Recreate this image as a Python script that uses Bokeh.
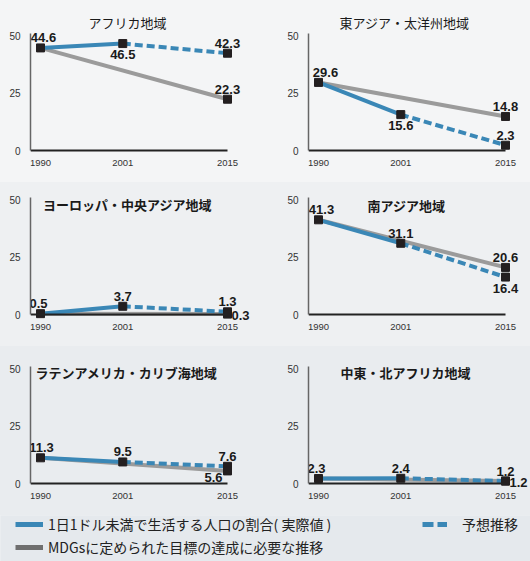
from bokeh.plotting import figure
from bokeh.models import Range1d, FixedTicker, Label, Legend, LegendItem
from bokeh.layouts import column, row
from bokeh.embed import file_html
from bokeh.resources import INLINE
from bokeh.core.properties import value

# ---------------- data ----------------
years = [1990, 2001, 2015]
regions = ["アフリカ地域", "東アジア・太洋州地域", "ヨーロッパ・中央アジア地域",
           "南アジア地域", "ラテンアメリカ・カリブ海地域", "中東・北アフリカ地域"]
actual_1990 = [44.6, 29.6, 0.5, 41.3, 11.3, 2.3]
actual_2001 = [46.5, 15.6, 3.7, 31.1, 9.5, 2.4]
projected_2015 = [42.3, 2.3, 1.3, 16.4, 7.6, 1.2]
target_2015 = [22.3, 14.8, 0.3, 20.6, 5.6, 1.2]
y_ticks = [0, 25, 50]
legend_labels = ["1日1ドル未満で生活する人口の割合( 実際値 )", "予想推移",
                 "MDGsに定められた目標の達成に必要な推移"]

# ---------------- style / layout ----------------
BLUE = "#3a87b6"
GRAY = "#9b9b9b"
GRAY_LEG = "#6f6f6f"
MARK = "#231f20"
TXT = "#1a1a1a"
BG = ["#f4f5f6", "#eef0f2", "#e9ecef", "#e5e9ed"]
PXY = 2.3            # px per percentage point
BORDER_BOTTOM = 16
COLS = [dict(w=265, left=30, pad=10, pxx=7.48, x0=0),
        dict(w=265, left=43, pad=10, pxx=7.48, x0=265)]
ROWS = [dict(top=0, h=182, zero=150.0),
        dict(top=182, h=164, zero=314.3),
        dict(top=346, h=169, zero=483.3)]
LEGEND_H = 46
# label placement per panel for (1990, 2001, projected 2015, target 2015)
placements = [["above", "below", "above", "above"],
              ["above", "below", "above", "above"],
              ["above", "above", "above", "right"],
              ["above", "above", "below", "above"],
              ["above", "above", "above", "below_l"],
              ["above", "above", "above", "right"]]
dx_1990 = [3, 7, -2, 3, 1, -2]
title_pos = [(127, 21.5), (404, 21.5), (127, 203.5), (406, 205), (126, 371.5), (405, 371.5)]
title_bold = ["normal", "normal", "bold", "bold", "bold", "bold"]
PLACE = {
    "above": dict(text_align="center", text_baseline="middle", x_offset=0, y_offset=-10),
    "below": dict(text_align="center", text_baseline="middle", x_offset=0, y_offset=11),
    "right": dict(text_align="left", text_baseline="middle", x_offset=4, y_offset=1),
    "below_l": dict(text_align="right", text_baseline="middle", x_offset=-5, y_offset=7),
}


def make_panel(i):
    c = COLS[i % 2]
    r = ROWS[i // 2]
    frame_h = r["h"] - BORDER_BOTTOM
    y_end = (r["zero"] - r["top"]) / PXY
    y_start = -(r["top"] + frame_h - r["zero"]) / PXY
    x_start = years[0] - c["pad"] / c["pxx"]
    x_end = x_start + (c["w"] - c["left"]) / c["pxx"]
    bg = BG[i // 2]
    p = figure(width=c["w"], height=r["h"],
               x_range=Range1d(x_start, x_end), y_range=Range1d(y_start, y_end),
               output_backend="svg", toolbar_location=None,
               min_border_left=c["left"], min_border_right=0,
               min_border_top=0, min_border_bottom=BORDER_BOTTOM)
    p.background_fill_color = bg
    p.border_fill_color = bg
    p.outline_line_color = None
    p.grid.visible = False

    xa = p.xaxis[0]
    xa.ticker = FixedTicker(ticks=years)
    xa.bounds = (x_start, years[-1])
    xa.fixed_location = 0
    xa.axis_line_color = "#222222"
    xa.axis_line_width = 2
    xa.major_tick_line_color = None
    xa.minor_tick_line_color = None
    xa.major_label_standoff = 3
    xa.major_label_text_font = "Liberation Sans"
    xa.major_label_text_font_size = "9.5px"
    xa.major_label_text_color = "#333333"

    ya = p.yaxis[0]
    ya.ticker = FixedTicker(ticks=y_ticks)
    ya.bounds = (0, 51)
    ya.axis_line_color = "#666666"
    ya.axis_line_width = 1.5
    ya.major_tick_line_color = None
    ya.minor_tick_line_color = None
    ya.major_label_standoff = 4
    ya.major_label_text_font = "Liberation Sans"
    ya.major_label_text_font_size = "10px"
    ya.major_label_text_color = "#333333"

    a90, a01, pr, tg = actual_1990[i], actual_2001[i], projected_2015[i], target_2015[i]
    # MDG target path
    p.line(x=[years[0], years[2]], y=[a90, tg], line_color=GRAY, line_width=4)
    # actual
    p.line(x=[years[0], years[1]], y=[a90, a01], line_color=BLUE, line_width=4)
    # projection
    p.line(x=[years[1], years[2]], y=[a01, pr], line_color=BLUE, line_width=4,
           line_dash="8 4")
    # markers
    p.scatter(x=[years[0], years[1], years[2], years[2]], y=[a90, a01, pr, tg],
              marker="square", size=8, fill_color=MARK, line_color=MARK)

    # value labels
    pts = [(years[0], a90), (years[1], a01), (years[2], pr), (years[2], tg)]
    for k, ((xx, yy), pl) in enumerate(zip(pts, placements[i])):
        st = dict(PLACE[pl])
        if k == 0:
            st["x_offset"] = st["x_offset"] + dx_1990[i]
        p.text(x=[xx], y=[yy], text=[f"{yy:.1f}"],
               text_font=value("Liberation Sans"), text_font_style="bold",
               text_font_size="13px", text_color=TXT, **st)

    # panel title
    tx, ty = title_pos[i]
    frame_left = c["x0"] + c["left"]
    lx = x_start + (tx - frame_left) / c["pxx"]
    ly = (r["zero"] - ty) / PXY
    p.add_layout(Label(x=lx, y=ly, text=regions[i], text_align="center",
                       text_baseline="middle", text_font="Noto Sans CJK JP",
                       text_font_size="13px", text_font_style=title_bold[i],
                       text_color=TXT))
    return p


panels = [make_panel(i) for i in range(6)]

# ---------------- legend ----------------
lg = figure(width=530, height=LEGEND_H, x_range=Range1d(0, 1), y_range=Range1d(0, 1),
            x_axis_type=None, y_axis_type=None, output_backend="svg",
            toolbar_location=None, min_border=0)
lg.background_fill_color = BG[3]
lg.border_fill_color = BG[3]
lg.outline_line_color = None
lg.grid.visible = False
# off-range dummy renderers: only their styles feed the legend swatches
r_act = lg.line(x=[5, 6], y=[5, 6], line_color=BLUE, line_width=5)
r_proj = lg.line(x=[5, 6], y=[5, 6], line_color=BLUE, line_width=5, line_dash="11 4")
r_tgt = lg.line(x=[5, 6], y=[5, 6], line_color=GRAY_LEG, line_width=5)

legend_specs = [(legend_labels[0], r_act, (15, 27), 28, 5),
                (legend_labels[1], r_proj, (422, 27), 25, 15),
                (legend_labels[2], r_tgt, (15, 4), 28, 5)]
for lab, rend, loc, gw, so in legend_specs:
    leg = Legend(items=[LegendItem(label=lab, renderers=[rend])], location=loc,
                 orientation="horizontal", glyph_width=gw, glyph_height=14,
                 label_height=14, label_standoff=so, padding=0, margin=0, spacing=0,
                 border_line_color=None, background_fill_alpha=0,
                 label_text_font="Noto Sans CJK JP", label_text_font_size="14px",
                 label_text_color="#222222")
    lg.add_layout(leg)

rows = []
for k in range(3):
    rr = row(panels[2 * k], panels[2 * k + 1], spacing=0)
    rr.styles = {"background-color": BG[k]}
    rows.append(rr)
layout = column(*rows, lg, spacing=0)
layout.styles = {"background-color": BG[1]}

open("out.html", "w").write(file_html(layout, INLINE))
